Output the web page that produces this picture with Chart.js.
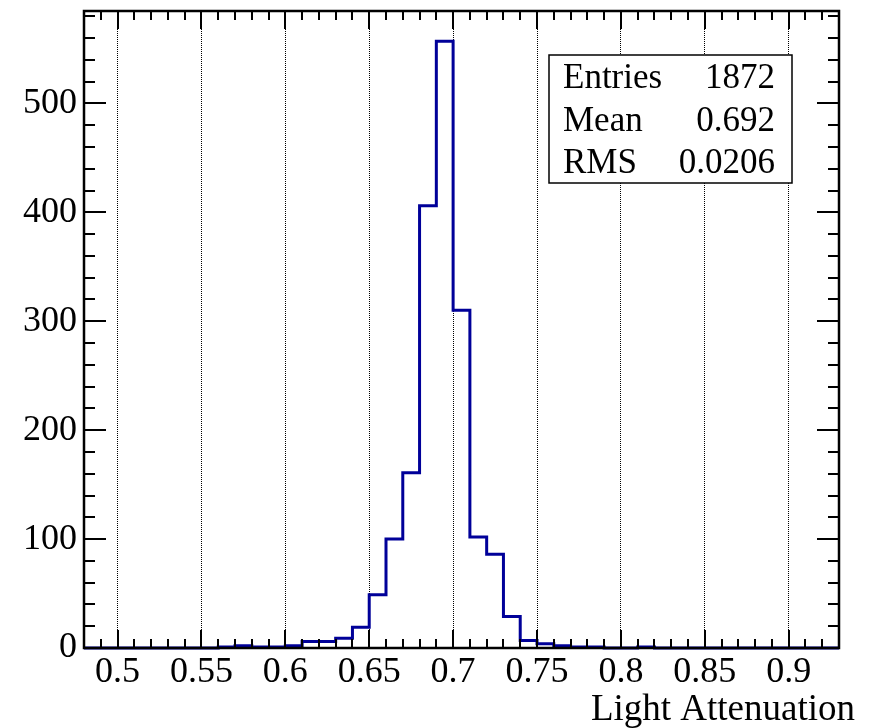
<!DOCTYPE html>
<html>
<head>
<meta charset="utf-8">
<script src="https://cdn.jsdelivr.net/npm/chart.js@4/dist/chart.umd.min.js"></script>
<style>
  html, body { margin: 0; padding: 0; background: #fff; }
  canvas { display: block; }
</style>
</head>
<body>
<canvas id="c" width="873" height="728"></canvas>
<script>
// Histogram bin edges (46 edges -> 45 bins of width 0.01)
const binEdges = [
  0.48, 0.49, 0.50, 0.51, 0.52, 0.53, 0.54, 0.55, 0.56, 0.57,
  0.58, 0.59, 0.60, 0.61, 0.62, 0.63, 0.64, 0.65, 0.66, 0.67,
  0.68, 0.69, 0.70, 0.71, 0.72, 0.73, 0.74, 0.75, 0.76, 0.77,
  0.78, 0.79, 0.80, 0.81, 0.82, 0.83, 0.84, 0.85, 0.86, 0.87,
  0.88, 0.89, 0.90, 0.91, 0.92, 0.93
];
// Entries per bin
const counts = [
  0, 0, 0, 0, 0, 0, 0, 0, 1, 2,
  1, 1, 2, 6, 6, 9, 19, 49, 100, 161,
  406, 557, 310, 102, 86, 29, 7, 4, 2, 1,
  1, 0, 0, 1, 0, 0, 0, 0, 0, 0,
  0, 0, 0, 0, 0
];
const xTicks = [0.5, 0.55, 0.6, 0.65, 0.7, 0.75, 0.8, 0.85, 0.9];
const xTickLabels = ['0.5', '0.55', '0.6', '0.65', '0.7', '0.75', '0.8', '0.85', '0.9'];
const yTicks = [0, 100, 200, 300, 400, 500];
const yTickLabels = ['0', '100', '200', '300', '400', '500'];
const xTitle = 'Light Attenuation';
const statNames = ['Entries', 'Mean', 'RMS'];
const statValues = ['1872', '0.692', '0.0206'];

const SERIF = "'Liberation Serif', 'Times New Roman', serif";
const LINE_BLUE = 'rgb(0,0,153)';

// Step outline: each lower edge carries its bin's count, closing at the last upper edge
const outline = counts.map((c, i) => ({ x: binEdges[i], y: c }));
outline.push({ x: binEdges[binEdges.length - 1], y: counts[counts.length - 1] });

const xMin = binEdges[0];
const xMax = binEdges[binEdges.length - 1];
const yMax = Math.max(...counts) * 1.05;

// Inward ticks on all four sides plus the frame
const frameTicks = {
  id: 'frameTicks',
  afterDatasetsDraw(chart) {
    const { ctx, chartArea: a, scales: { x, y } } = chart;
    ctx.save();
    ctx.strokeStyle = '#000';
    ctx.lineWidth = 2;
    ctx.beginPath();
    for (let k = 49; k <= 92; k++) {
      const len = (k % 5 === 0) ? 18 : 9;
      const px = Math.round(x.getPixelForValue(k / 100));
      ctx.moveTo(px, a.bottom); ctx.lineTo(px, a.bottom - len);
      ctx.moveTo(px, a.top); ctx.lineTo(px, a.top + len);
    }
    for (let v = 0; v <= y.max; v += 20) {
      const len = (v % 100 === 0) ? 22 : 11;
      const py = Math.round(y.getPixelForValue(v));
      ctx.moveTo(a.left, py); ctx.lineTo(a.left + len, py);
      ctx.moveTo(a.right, py); ctx.lineTo(a.right - len, py);
    }
    ctx.stroke();
    ctx.lineWidth = 2.5;
    ctx.strokeRect(a.left, a.top, a.right - a.left, a.bottom - a.top);
    ctx.restore();
  },
  afterDraw(chart) {
    const { ctx, chartArea: a } = chart;
    ctx.save();
    // statistics box
    const bx = 549, by = 55, bw = 243, bh = 128;
    ctx.fillStyle = '#fff';
    ctx.fillRect(bx, by, bw, bh);
    ctx.strokeStyle = '#000';
    ctx.lineWidth = 1.5;
    ctx.strokeRect(bx, by, bw, bh);
    ctx.fillStyle = '#000';
    ctx.font = '35px ' + SERIF;
    ctx.textBaseline = 'alphabetic';
    const baselines = [88, 131, 173];
    statNames.forEach((n, i) => {
      ctx.textAlign = 'left';
      ctx.fillText(n, 563, baselines[i]);
      ctx.textAlign = 'right';
      ctx.fillText(statValues[i], 775, baselines[i]);
    });
    // axis title, right aligned past the frame edge
    ctx.font = '37px ' + SERIF;
    ctx.textAlign = 'right';
    ctx.fillText(xTitle, a.right + 16, 720);
    ctx.restore();
  }
};

new Chart(document.getElementById('c'), {
  type: 'line',
  data: {
    datasets: [{
      data: outline,
      stepped: 'before',
      borderColor: LINE_BLUE,
      borderWidth: 3,
      borderJoinStyle: 'miter',
      pointRadius: 0,
      fill: false,
      clip: 4
    }]
  },
  options: {
    responsive: false,
    animation: false,
    devicePixelRatio: 1,
    layout: { padding: { top: 11, right: 34, left: 0, bottom: 0 } },
    plugins: { legend: { display: false }, tooltip: { enabled: false } },
    scales: {
      x: {
        type: 'linear',
        bounds: 'data',
        min: xMin,
        max: xMax,
        afterBuildTicks: (s) => {
          s.ticks = xTicks.map(v => ({ value: v }));
          s.min = xMin; s.max = xMax;
        },
        afterFit: (s) => { s.height = 80; s.paddingLeft = 0; s.paddingRight = 0; },
        ticks: {
          autoSkip: false,
          maxRotation: 0,
          padding: 3,
          color: '#000',
          font: { family: SERIF, size: 36 },
          callback: (v, i) => xTickLabels[i]
        },
        grid: { display: true, drawOnChartArea: true, drawTicks: false, color: '#000', lineWidth: 1 },
        border: { display: false, dash: [1, 1] }
      },
      y: {
        type: 'linear',
        bounds: 'data',
        min: 0,
        max: yMax,
        afterBuildTicks: (s) => {
          s.ticks = yTicks.map(v => ({ value: v }));
          s.min = 0; s.max = yMax;
        },
        afterFit: (s) => { s.width = 84; s.paddingTop = 0; s.paddingBottom = 0; },
        ticks: {
          autoSkip: false,
          padding: 7,
          color: '#000',
          font: { family: SERIF, size: 36 },
          callback: (v, i) => yTickLabels[i]
        },
        grid: { display: false, drawTicks: false },
        border: { display: false }
      }
    }
  },
  plugins: [frameTicks]
});
</script>
</body>
</html>
